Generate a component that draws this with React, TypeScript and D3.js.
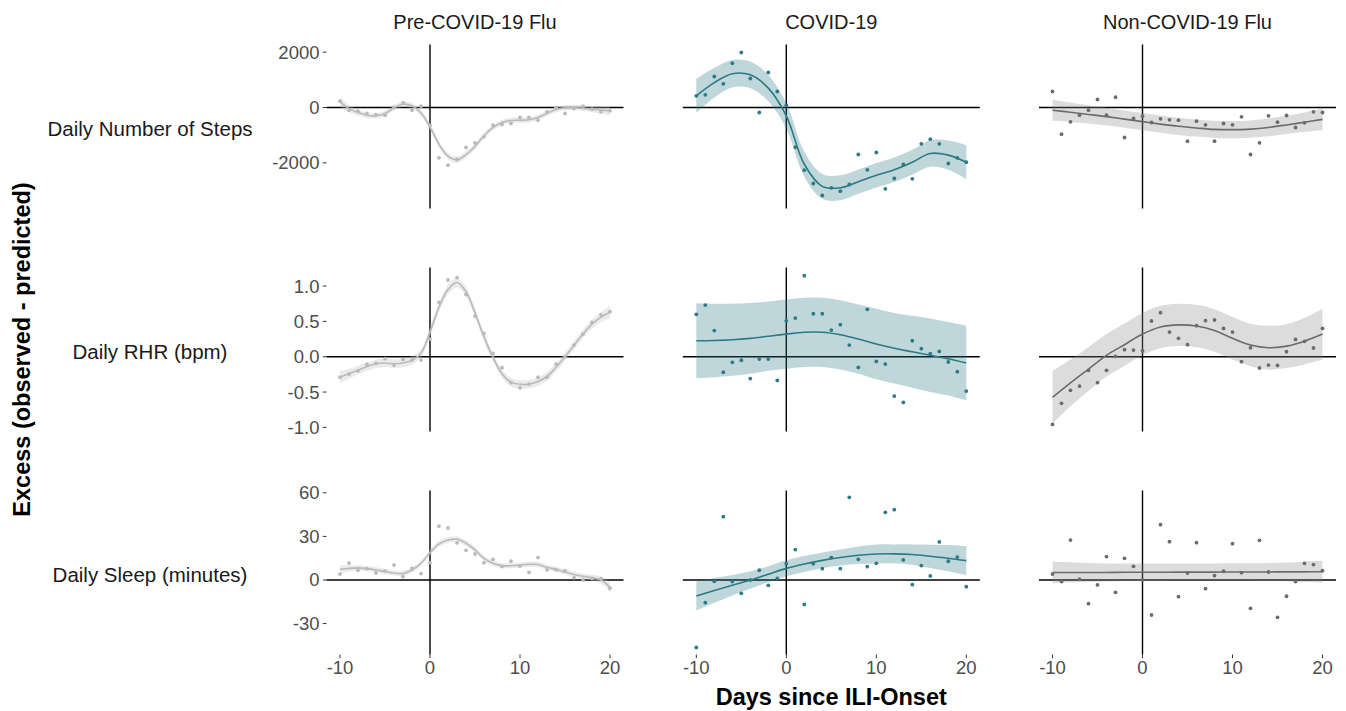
import React from "react";
import * as d3 from "d3";

// ---------- data ----------
const DAYS = [-10,-9,-8,-7,-6,-5,-4,-3,-2,-1,0,1,2,3,4,5,6,7,8,9,10,11,12,13,14,15,16,17,18,19,20];
const KNOTS2 = [-10,-8,-6,-4,-2,0,2,4,6,8,10,12,14,16,18,20];
const X_TICKS = [-10, 0, 10, 20];

const GROUPS = ["Pre-COVID-19 Flu", "COVID-19", "Non-COVID-19 Flu"];
const MEASURES = ["Daily Number of Steps", "Daily RHR (bpm)", "Daily Sleep (minutes)"];

const STEPS_TICKS = [-2000, 0, 2000];
const RHR_TICKS = [-1.0, -0.5, 0.0, 0.5, 1.0];
const SLEEP_TICKS = [-30, 0, 30, 60];

// Steps
const STEPS_PRE_PTS = [229,-96,-133,-217,-260,-277,0,169,-96,48,-640,-1819,-2084,-1880,-1446,-1277,-1060,-640,-614,-578,-361,-361,-458,-157,0,-217,-36,48,-60,-157,-120];
const STEPS_PRE_FIT = [200,-40,-180,-280,-300,-220,-10,120,60,-200,-700,-1330,-1760,-1890,-1700,-1400,-1020,-720,-540,-470,-460,-440,-360,-210,-70,-10,0,-30,-60,-90,-120];
const STEPS_PRE_BAND = [170,130,110,100,100,100,100,100,100,110,120,120,120,120,120,120,110,100,100,100,100,100,100,100,100,100,100,100,110,130,170];

const STEPS_COV_PTS = [422,458,1120,855,1602,1988,1048,-181,1265,578,84,-1434,-2265,-2747,-3181,-2904,-3024,-2783,-1699,-2253,-1627,-2940,-2566,-2060,-2578,-1313,-1145,-1313,-2024,-1820,-1976];
const STEPS_COV_FIT = [420,900,1220,1180,700,-300,-2050,-2850,-2900,-2680,-2450,-2250,-1980,-1660,-1720,-1976];
const STEPS_COV_BAND = [620,540,500,480,470,460,450,450,450,440,440,440,450,480,530,620];

const STEPS_NON_PTS = [578,-964,-518,-277,-96,289,-277,373,-1084,-398,-313,-542,-410,-446,-458,-1217,-494,-627,-1217,-578,-627,-337,-1699,-1277,-301,-530,-289,-723,-554,-157,-181];
const STEPS_NON_FIT = [-100,-170,-250,-330,-420,-510,-600,-680,-740,-790,-800,-780,-720,-630,-530,-430];
const STEPS_NON_BAND = [380,350,330,320,310,310,310,310,310,310,310,310,320,330,350,390];

// RHR
const RHR_PRE_PTS = [-0.29,-0.245,-0.2,-0.11,-0.094,-0.028,-0.118,-0.038,-0.047,-0.047,0.25,0.77,1.085,1.12,0.88,0.575,0.33,0.047,-0.156,-0.368,-0.44,-0.387,-0.29,-0.29,-0.104,0.0,0.165,0.32,0.486,0.59,0.637];
const RHR_PRE_FIT = [-0.29,-0.24,-0.19,-0.14,-0.1,-0.09,-0.1,-0.09,-0.05,0.05,0.35,0.7,0.95,1.05,0.92,0.62,0.28,-0.01,-0.24,-0.36,-0.39,-0.39,-0.35,-0.28,-0.15,0.0,0.16,0.32,0.46,0.56,0.63];
const RHR_PRE_BAND = [0.09,0.07,0.06,0.06,0.06,0.06,0.06,0.06,0.06,0.06,0.065,0.07,0.07,0.07,0.07,0.07,0.065,0.06,0.06,0.06,0.06,0.06,0.06,0.06,0.06,0.06,0.06,0.06,0.065,0.07,0.09];

const RHR_COV_PTS = [0.6,0.73,0.37,-0.22,-0.08,-0.05,-0.31,-0.033,-0.033,-0.335,0.505,0.547,1.146,0.608,0.608,0.377,0.453,0.165,-0.151,0.67,-0.066,-0.104,-0.557,-0.646,0.226,0.113,0.042,0.075,-0.075,-0.212,-0.486];
const RHR_COV_FIT = [0.226,0.23,0.24,0.26,0.29,0.32,0.345,0.345,0.31,0.25,0.18,0.12,0.07,0.02,-0.03,-0.09];
const RHR_COV_BAND = [0.53,0.52,0.51,0.5,0.49,0.49,0.49,0.49,0.49,0.49,0.5,0.5,0.51,0.52,0.52,0.53];

const RHR_NON_PTS = [-0.958,-0.66,-0.476,-0.415,-0.193,-0.368,-0.193,0.005,0.099,0.094,0.085,0.505,0.623,0.349,0.26,0.17,0.439,0.51,0.519,0.4,0.349,-0.07,0.127,-0.16,-0.118,-0.123,0.071,0.245,0.217,0.123,0.4];
const RHR_NON_FIT = [-0.575,-0.37,-0.175,0.02,0.17,0.32,0.42,0.45,0.434,0.37,0.26,0.165,0.127,0.15,0.22,0.32];
const RHR_NON_BAND = [0.37,0.33,0.31,0.3,0.3,0.3,0.3,0.3,0.3,0.3,0.3,0.3,0.31,0.31,0.33,0.36];

// Sleep
const SLEEP_PRE_PTS = [4.1,11.7,6.7,7.8,4.8,6.2,10.3,2.3,8.0,4.4,11.9,37,35.8,25.5,20.4,17.9,11.9,14.2,9.2,12.9,9.6,5.3,15.4,6.9,7.1,6.4,1.6,0,1.1,0.9,-5.7];
const SLEEP_PRE_FIT = [7.3,8.0,8.3,7.8,6.9,5.8,4.8,4.4,6.9,11.5,18.8,24.8,27.5,28,25.3,20.7,14.9,11.5,9.9,9.8,10.3,10.8,10.6,8.7,7.3,5.5,3.8,2.5,1.6,0,-5];
const SLEEP_PRE_BAND = [3,2.2,1.8,1.8,1.8,1.8,1.8,1.8,1.8,1.8,2,2,2,2,2,2,1.8,1.8,1.8,1.8,1.8,1.8,1.8,1.8,1.8,1.8,1.8,1.8,2,2.5,3.5];

const SLEEP_COV_PTS = [-46.4,-15.6,-0.9,43.6,-1.1,-9.2,0,6.7,-3.7,1.1,11.2,20.9,-16.8,11.2,7.8,15.4,7.8,56.9,14.2,9.2,11.5,46.6,48.4,13.8,-3.2,9.9,2.8,26.2,12.9,15.8,-4.6];
const SLEEP_COV_FIT = [-11,-7.2,-3.6,0,4,8,11,13.5,15.5,17,17.9,18,17.5,16.3,15,13.3];
const SLEEP_COV_BAND = [10,8.5,7,6,5.5,5.5,5.5,5.5,5.5,6,6.5,6.5,7,8,9,10];

const SLEEP_NON_PTS = [4.1,-1.1,27.5,0.5,-16.3,-3.4,16.1,-8.5,14.9,9.4,0,-24.1,38.1,26.4,-11.5,4.8,25.7,-6,3,6,25,5,-19.5,27.3,5.5,-25.7,-11.2,-1.1,11.5,10.6,6.4];
const SLEEP_NON_FIT = [5.2,5.2,5.2,5.2,5.3,5.3,5.3,5.4,5.4,5.4,5.5,5.5,5.5,5.6,5.6,5.7];
const SLEEP_NON_BAND = [7.5,7,6.5,6.2,6,6,6,6,6,6,6,6,6.2,6.5,7,7.5];

// ---------- layout / style ----------
const W = 1346, H = 711;
const COL_LEFT = [326.5, 682.8, 1039];
const PANEL_W = 297;
const ROW_TOP = [44.5, 267.5, 490.5];
const PANEL_H = 164;
const FONT = "'Liberation Sans', Arial, Helvetica, sans-serif";

const GROUP_STYLE = [
  { pt: "#bababa", line: "#bababa", band: "#bdbdbd" },
  { pt: "#2b7a85", line: "#2b7a85", band: "#2b7a85" },
  { pt: "#6c6c6c", line: "#6c6c6c", band: "#8a8a8a" },
];

const hy = (s: string) => s.replace("\u2212", "-");
const ROWS = [
  { ticks: STEPS_TICKS, domain: [-3650, 2277], fmt: (v: number) => hy(d3.format("d")(v)),
    panels: [
      { pts: STEPS_PRE_PTS, knots: DAYS, fit: STEPS_PRE_FIT, band: STEPS_PRE_BAND },
      { pts: STEPS_COV_PTS, knots: KNOTS2, fit: STEPS_COV_FIT, band: STEPS_COV_BAND },
      { pts: STEPS_NON_PTS, knots: KNOTS2, fit: STEPS_NON_FIT, band: STEPS_NON_BAND },
    ] },
  { ticks: RHR_TICKS, domain: [-1.058, 1.262], fmt: (v: number) => hy(d3.format(".1f")(v)),
    panels: [
      { pts: RHR_PRE_PTS, knots: DAYS, fit: RHR_PRE_FIT, band: RHR_PRE_BAND },
      { pts: RHR_COV_PTS, knots: KNOTS2, fit: RHR_COV_FIT, band: RHR_COV_BAND },
      { pts: RHR_NON_PTS, knots: KNOTS2, fit: RHR_NON_FIT, band: RHR_NON_BAND },
    ] },
  { ticks: SLEEP_TICKS, domain: [-51.3, 61.6], fmt: (v: number) => hy(d3.format("d")(v)),
    panels: [
      { pts: SLEEP_PRE_PTS, knots: DAYS, fit: SLEEP_PRE_FIT, band: SLEEP_PRE_BAND },
      { pts: SLEEP_COV_PTS, knots: KNOTS2, fit: SLEEP_COV_FIT, band: SLEEP_COV_BAND },
      { pts: SLEEP_NON_PTS, knots: KNOTS2, fit: SLEEP_NON_FIT, band: SLEEP_NON_BAND },
    ] },
];

function Panel({ ri, ci }: { ri: number; ci: number }) {
  const row = ROWS[ri];
  const p = row.panels[ci];
  const st = GROUP_STYLE[ci];
  const x = d3.scaleLinear().domain([-11.5, 21.5]).range([COL_LEFT[ci], COL_LEFT[ci] + PANEL_W]);
  const y = d3.scaleLinear().domain(row.domain).range([ROW_TOP[ri] + PANEL_H, ROW_TOP[ri]]);
  const idx = p.knots.map((_, i) => i);
  const curve = d3.curveCatmullRom.alpha(0.5);
  const area = d3.area<number>()
    .x((i) => x(p.knots[i]))
    .y0((i) => y(p.fit[i] - p.band[i]))
    .y1((i) => y(p.fit[i] + p.band[i]))
    .curve(curve);
  const line = d3.line<number>()
    .x((i) => x(p.knots[i]))
    .y((i) => y(p.fit[i]))
    .curve(curve);
  return (
    <g>
      <line x1={x.range()[0]} x2={x.range()[1]} y1={y(0)} y2={y(0)} stroke="#000" strokeWidth={1.4} />
      <line x1={x(0)} x2={x(0)} y1={y.range()[0]} y2={y.range()[1]} stroke="#000" strokeWidth={1.4} />
      <path d={area(idx) || ""} fill={st.band} fillOpacity={0.3} stroke="none" />
      <path d={line(idx) || ""} fill="none" stroke={st.line} strokeWidth={1.6} />
      {p.pts.map((v, i) => (
        <circle key={i} cx={x(DAYS[i])} cy={y(v)} r={1.9} fill={st.pt} />
      ))}
    </g>
  );
}

export default function App() {
  return (
    <svg width={W} height={H} style={{ position: "absolute", left: 0, top: 0, background: "#fff" }}
      fontFamily={FONT}>
      <rect x={0} y={0} width={W} height={H} fill="#fff" />
      {/* column strips */}
      {GROUPS.map((g, ci) => (
        <text key={g} x={COL_LEFT[ci] + PANEL_W / 2} y={22} textAnchor="middle" dominantBaseline="central"
          fontSize={20} fill="#1a1a1a">{g}</text>
      ))}
      {/* row labels */}
      {MEASURES.map((m, ri) => (
        <text key={m} x={150} y={ROW_TOP[ri] + PANEL_H / 2 + 2} textAnchor="middle" dominantBaseline="central"
          fontSize={20.5} fill="#1a1a1a">{m}</text>
      ))}
      {/* y axes */}
      {ROWS.map((row, ri) => {
        const y = d3.scaleLinear().domain(row.domain).range([ROW_TOP[ri] + PANEL_H, ROW_TOP[ri]]);
        return (
          <g key={ri}>
            {row.ticks.map((t) => (
              <g key={t}>
                <line x1={COL_LEFT[0] - 3.7} x2={COL_LEFT[0]} y1={y(t)} y2={y(t)} stroke="#333" strokeWidth={1} />
                <text x={COL_LEFT[0] - 7} y={y(t)} textAnchor="end" dominantBaseline="central" fontSize={18.5}
                  fill="#4d4d4d">{row.fmt(t)}</text>
              </g>
            ))}
          </g>
        );
      })}
      {/* x axes */}
      {GROUPS.map((g, ci) => {
        const x = d3.scaleLinear().domain([-11.5, 21.5]).range([COL_LEFT[ci], COL_LEFT[ci] + PANEL_W]);
        const yb = ROW_TOP[2] + PANEL_H;
        return (
          <g key={g}>
            {X_TICKS.map((t) => (
              <g key={t}>
                <line x1={x(t)} x2={x(t)} y1={yb} y2={yb + 3.7} stroke="#333" strokeWidth={1} />
                <text x={x(t)} y={yb + 13} textAnchor="middle" dominantBaseline="central" fontSize={18.5}
                  fill="#4d4d4d">{hy(String(t))}</text>
              </g>
            ))}
          </g>
        );
      })}
      {/* panels */}
      {ROWS.map((_, ri) => GROUPS.map((__, ci) => <Panel key={`${ri}-${ci}`} ri={ri} ci={ci} />))}
      {/* axis titles */}
      <text x={(COL_LEFT[0] + COL_LEFT[2] + PANEL_W) / 2} y={697} textAnchor="middle" dominantBaseline="central"
        fontSize={23.5} fontWeight="bold" fill="#000">Days since ILI-Onset</text>
      <text transform={`translate(22, ${(ROW_TOP[0] + ROW_TOP[2] + PANEL_H) / 2}) rotate(-90)`} textAnchor="middle"
        dominantBaseline="central" fontSize={23.5} fontWeight="bold" fill="#000">Excess (observed - predicted)</text>
    </svg>
  );
}
